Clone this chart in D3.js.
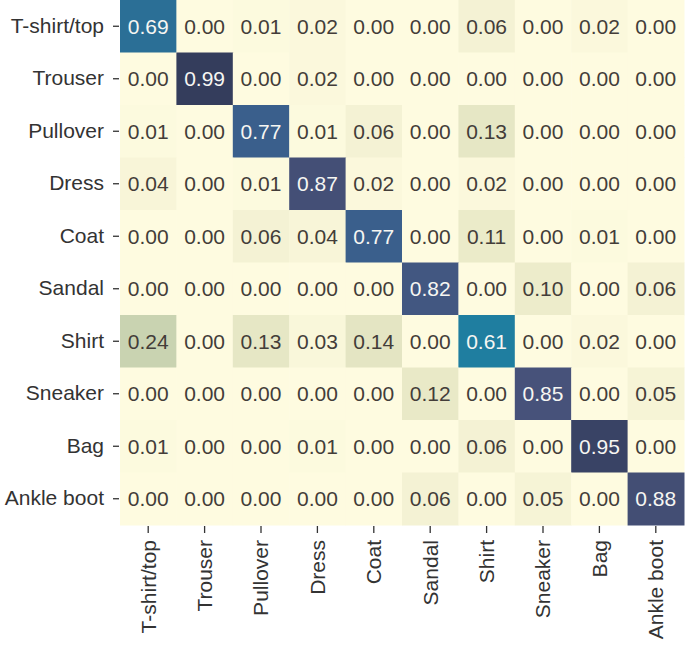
<!DOCTYPE html>
<html>
<head>
<meta charset="utf-8">
<script src="https://cdn.jsdelivr.net/npm/d3@7"></script>
<style>
  body { margin: 0; background: #fff; }
  text { font-family: "Liberation Sans", Arial, sans-serif; }
</style>
</head>
<body>
<div id="chart"></div>
<script>
// class names, same order for rows (true) and columns (predicted)
const classes = ["T-shirt/top", "Trouser", "Pullover", "Dress", "Coat",
                 "Sandal", "Shirt", "Sneaker", "Bag", "Ankle boot"];

// normalised confusion matrix, one row per true class
const rowTshirt   = [0.69, 0.00, 0.01, 0.02, 0.00, 0.00, 0.06, 0.00, 0.02, 0.00];
const rowTrouser  = [0.00, 0.99, 0.00, 0.02, 0.00, 0.00, 0.00, 0.00, 0.00, 0.00];
const rowPullover = [0.01, 0.00, 0.77, 0.01, 0.06, 0.00, 0.13, 0.00, 0.00, 0.00];
const rowDress    = [0.04, 0.00, 0.01, 0.87, 0.02, 0.00, 0.02, 0.00, 0.00, 0.00];
const rowCoat     = [0.00, 0.00, 0.06, 0.04, 0.77, 0.00, 0.11, 0.00, 0.01, 0.00];
const rowSandal   = [0.00, 0.00, 0.00, 0.00, 0.00, 0.82, 0.00, 0.10, 0.00, 0.06];
const rowShirt    = [0.24, 0.00, 0.13, 0.03, 0.14, 0.00, 0.61, 0.00, 0.02, 0.00];
const rowSneaker  = [0.00, 0.00, 0.00, 0.00, 0.00, 0.12, 0.00, 0.85, 0.00, 0.05];
const rowBag      = [0.01, 0.00, 0.00, 0.01, 0.00, 0.00, 0.06, 0.00, 0.95, 0.00];
const rowAnkle    = [0.00, 0.00, 0.00, 0.00, 0.00, 0.06, 0.00, 0.05, 0.00, 0.88];

const matrix = [rowTshirt, rowTrouser, rowPullover, rowDress, rowCoat,
                rowSandal, rowShirt, rowSneaker, rowBag, rowAnkle];

const width = 685, height = 645;
const margin = {top: 0, right: 1, bottom: 120, left: 120};
const fontSize = 21;

const svg = d3.select("#chart").append("svg")
    .attr("width", width)
    .attr("height", height);

const g = svg.append("g")
    .attr("transform", `translate(${margin.left},${margin.top})`);

const innerW = width - margin.left - margin.right;
const innerH = height - margin.top - margin.bottom;

const x = d3.scaleBand().domain(classes).range([0, innerW]);
const y = d3.scaleBand().domain(classes).range([0, innerH]);

// muted yellow -> teal -> navy ramp
const color = d3.scaleLinear()
    .domain([0, 0.05, 0.12, 0.24, 0.45, 0.61, 0.69, 0.77, 0.85, 0.99])
    .range(["#fefbe0", "#f6f4d6", "#e9e9c7", "#c9d3b1", "#6fa5b0",
            "#1f7ea0", "#2b6f96", "#3a5f8c", "#47527a", "#343d5c"])
    .clamp(true);

const cells = [];
matrix.forEach((row, i) => row.forEach((v, j) => {
    cells.push({row: classes[i], col: classes[j], value: v});
}));

g.selectAll("rect.cell")
    .data(cells)
    .join("rect")
    .attr("class", "cell")
    .attr("x", d => x(d.col))
    .attr("y", d => y(d.row))
    .attr("width", x.bandwidth() + 0.5)
    .attr("height", y.bandwidth() + 0.5)
    .attr("fill", d => color(d.value));

g.selectAll("text.annot")
    .data(cells)
    .join("text")
    .attr("class", "annot")
    .attr("x", d => x(d.col) + x.bandwidth() / 2)
    .attr("y", d => y(d.row) + y.bandwidth() / 2)
    .attr("dy", "0.36em")
    .attr("text-anchor", "middle")
    .attr("font-size", fontSize)
    .attr("fill", d => d.value > 0.5 ? "#f6f6f2" : "#433d39")
    .text(d => d3.format(".2f")(d.value));

// axes
const yAxis = g.append("g")
    .attr("transform", "translate(-1,0)")
    .call(d3.axisLeft(y).tickSize(6).tickPadding(9));
const xAxis = g.append("g")
    .attr("transform", `translate(0,${innerH + 1})`)
    .call(d3.axisBottom(x).tickSize(7).tickPadding(5));

[yAxis, xAxis].forEach(ax => {
    ax.select(".domain").remove();
    ax.selectAll(".tick line").attr("stroke", "#333").attr("stroke-width", 1.3);
    ax.selectAll(".tick text")
        .attr("font-size", fontSize)
        .attr("fill", "#333")
        .style("font-family", "'Liberation Sans', Arial, sans-serif");
});

xAxis.selectAll(".tick text")
    .attr("transform", "rotate(-90)")
    .attr("text-anchor", "end")
    .attr("x", -14)
    .attr("y", 0)
    .attr("dy", "0.35em");
</script>
</body>
</html>
